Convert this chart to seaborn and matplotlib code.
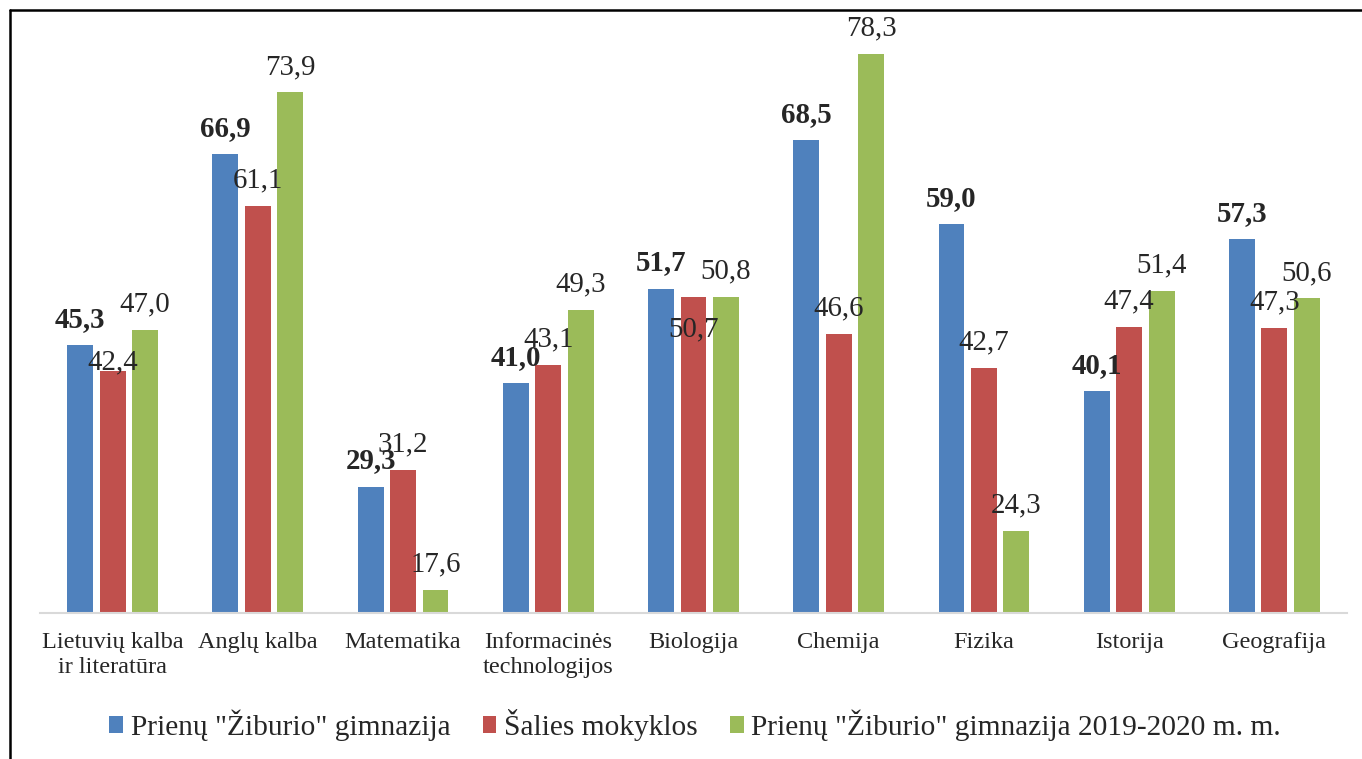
import matplotlib
matplotlib.use("Agg")
import matplotlib.pyplot as plt
from matplotlib.lines import Line2D
import pandas as pd
import seaborn as sns

CATEGORIES = [
    "Lietuvių kalba\nir literatūra",
    "Anglų kalba",
    "Matematika",
    "Informacinės\ntechnologijos",
    "Biologija",
    "Chemija",
    "Fizika",
    "Istorija",
    "Geografija",
]
SERIES = [
    'Prienų "Žiburio" gimnazija',
    "Šalies mokyklos",
    'Prienų "Žiburio" gimnazija 2019-2020 m. m.',
]
ZIBURIO = [45.3, 66.9, 29.3, 41.0, 51.7, 68.5, 59.0, 40.1, 57.3]
SALIES = [42.4, 61.1, 31.2, 43.1, 50.7, 46.6, 42.7, 47.4, 47.3]
ZIBURIO_2019 = [47.0, 73.9, 17.6, 49.3, 50.8, 78.3, 24.3, 51.4, 50.6]

COLORS = ["#4F81BD", "#C0504D", "#9BBB59"]

sns.set_theme(style="white")
plt.rcParams["font.family"] = ["Liberation Serif", "DejaVu Serif"]

rows = []
for name, vals in zip(SERIES, [ZIBURIO, SALIES, ZIBURIO_2019]):
    for cat, v in zip(CATEGORIES, vals):
        rows.append({"dalykas": cat, "grupe": name, "reiksme": v})
df = pd.DataFrame(rows)

fig = plt.figure(figsize=(13.62, 7.59), dpi=100)
ax = fig.add_axes([40 / 1362, 1 - 613 / 759, 1307 / 1362, 593 / 759])

sns.barplot(data=df, x="dalykas", y="reiksme", hue="grupe", order=CATEGORIES,
            hue_order=SERIES, palette=COLORS, saturation=1, width=0.67, gap=0.2,
            linewidth=0, ax=ax)

# value axis starts at 15, as in the original chart
ax.set_ylim(15, 82.1)
ax.set_xlim(-0.5, len(CATEGORIES) - 0.5)
ax.set_xlabel("")
ax.set_ylabel("")
ax.set_yticks([])
for side in ["left", "right", "top"]:
    ax.spines[side].set_visible(False)
ax.spines["bottom"].set_color("#D9D9D9")
ax.spines["bottom"].set_linewidth(1.5)
ax.tick_params(axis="x", length=0, pad=14, labelsize=17.5)

for i, cont in enumerate(ax.containers):
    texts = ax.bar_label(cont, labels=[f"{v:.1f}".replace(".", ",") for v in cont.datavalues],
                         padding=9, fontsize=20.8,
                         fontweight="bold" if i == 0 else "normal")
    if i == 1:
        # a couple of labels sit lower in the original to dodge neighbours
        texts[0].xyann = (0, -3)
        texts[4].xyann = (0, -32)

ax.legend(loc="center", bbox_to_anchor=(695 / 1362, (759 - 725) / 759), bbox_transform=fig.transFigure,
          ncol=3, frameon=False, fontsize=21.2, handlelength=0.47, handleheight=0.47,
          handletextpad=0.25, columnspacing=1.1, borderaxespad=0)

fig.add_artist(Line2D([10 / 1362, 10 / 1362], [0, 1 - 10 / 759], color="black", linewidth=1.8,
                      transform=fig.transFigure))
fig.add_artist(Line2D([10 / 1362, 1], [1 - 10 / 759, 1 - 10 / 759], color="black", linewidth=1.8,
                      transform=fig.transFigure))

fig.savefig("out.png", dpi=100)
